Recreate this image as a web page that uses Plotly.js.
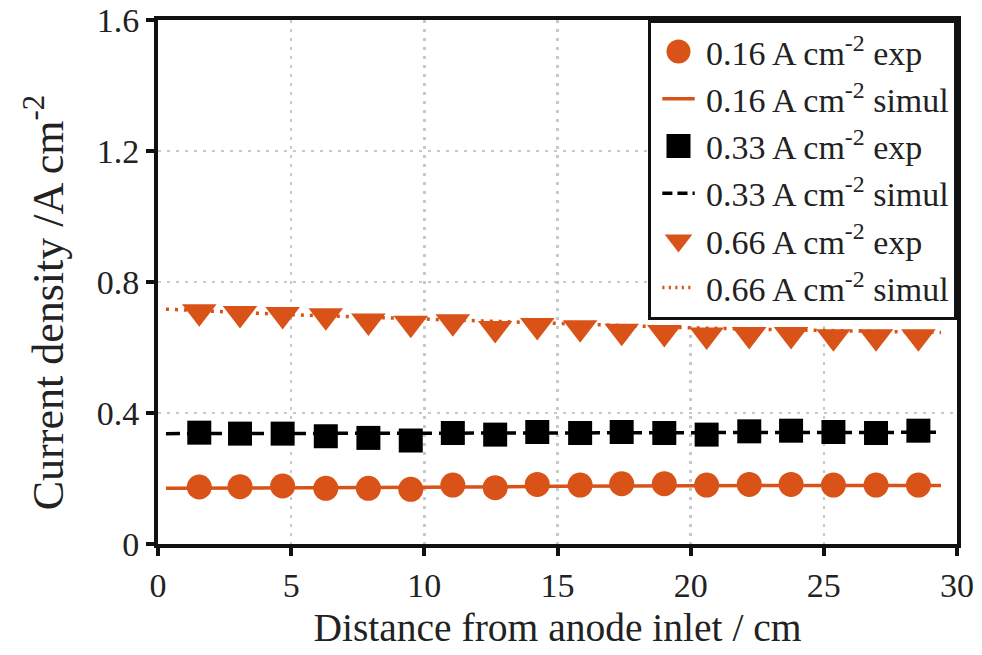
<!DOCTYPE html>
<html>
<head>
<meta charset="utf-8">
<script src="https://cdn.plot.ly/plotly-3.0.1.min.js"></script>
<style>html,body{margin:0;padding:0;background:#fff;}#chart{width:982px;height:655px;}</style>
</head>
<body>
<div id="chart"></div>
<script>
// Distance from anode inlet (cm) of the measured segments
const expX = [1.55, 3.08, 4.68, 6.30, 7.90, 9.49, 11.07, 12.66, 14.24, 15.85, 17.41, 19.01, 20.60, 22.20, 23.77, 25.36, 26.96, 28.55];
// Experimental current densities (A cm-2)
const exp016 = [0.174, 0.175, 0.177, 0.170, 0.170, 0.167, 0.180, 0.172, 0.182, 0.180, 0.184, 0.184, 0.180, 0.182, 0.182, 0.180, 0.180, 0.180];
const exp033 = [0.340, 0.337, 0.337, 0.329, 0.324, 0.316, 0.339, 0.334, 0.342, 0.339, 0.342, 0.339, 0.334, 0.344, 0.346, 0.342, 0.339, 0.346];
const exp066 = [0.709, 0.704, 0.701, 0.697, 0.681, 0.674, 0.679, 0.658, 0.667, 0.660, 0.650, 0.646, 0.638, 0.640, 0.640, 0.633, 0.633, 0.633];
// Simulated profiles
const simX = [0.3, 5, 10, 15, 20, 25, 29.4];
const sim016 = [0.170, 0.171, 0.173, 0.176, 0.178, 0.179, 0.179];
const sim033 = [0.337, 0.337, 0.338, 0.339, 0.340, 0.341, 0.341];
const sim066 = [0.717, 0.700, 0.687, 0.674, 0.660, 0.652, 0.646];
// Series names
const names = ['0.16 A cm<sup>-2</sup> exp', '0.16 A cm<sup>-2</sup> simul',
               '0.33 A cm<sup>-2</sup> exp', '0.33 A cm<sup>-2</sup> simul',
               '0.66 A cm<sup>-2</sup> exp', '0.66 A cm<sup>-2</sup> simul'];
// Tick labels and axis titles
const xTicks = [0, 5, 10, 15, 20, 25, 30];
const xTickText = ['0', '5', '10', '15', '20', '25', '30'];
const yTicks = [0, 0.4, 0.8, 1.2, 1.6];
const yTickText = ['0', '0.4', '0.8', '1.2', '1.6'];
const xTitle = 'Distance from anode inlet / cm';
const yTitle = 'Current density /A cm<sup>-2</sup>';

const ORANGE = '#D95319';
const FONT = 'Liberation Serif, Times New Roman, serif';

const traces = [
  {x: expX, y: exp016, name: names[0], mode: 'markers',
   marker: {symbol: 'circle', size: 25, color: ORANGE}},
  {x: simX, y: sim016, name: names[1], mode: 'lines',
   line: {color: ORANGE, width: 3.5}},
  {x: expX, y: exp033, name: names[2], mode: 'markers',
   marker: {symbol: 'square', size: 24, color: '#000'}},
  {x: simX, y: sim033, name: names[3], mode: 'lines',
   line: {color: '#000', width: 3.5, dash: '14px,7px'}},
  {x: expX, y: exp066, name: names[4], mode: 'markers',
   marker: {symbol: 'triangle-down', size: 30, color: ORANGE}},
  {x: simX, y: sim066, name: names[5], mode: 'lines',
   line: {color: ORANGE, width: 3.5, dash: '3px,6px'}}
];

const axisCommon = {
  showline: true, linewidth: 4, linecolor: '#111', mirror: true,
  ticks: 'outside', ticklen: 8, tickwidth: 4, tickcolor: '#111',
  showgrid: true, gridcolor: '#c8c8c8', gridwidth: 2.5, griddash: '3px,6px',
  zeroline: false, ticklabeloverflow: 'allow',
  tickfont: {family: FONT, size: 34, color: '#222'}
};

const layout = {
  width: 982, height: 655,
  margin: {l: 158, r: 25, t: 20, b: 111},
  paper_bgcolor: '#fff', plot_bgcolor: '#fff',
  showlegend: true,
  xaxis: Object.assign({}, axisCommon, {
    range: [0, 30], tickmode: 'array', tickvals: xTicks, ticktext: xTickText,
    title: {text: xTitle, font: {family: FONT, size: 39.5, color: '#222'}, standoff: 12}
  }),
  yaxis: Object.assign({}, axisCommon, {
    range: [0, 1.6], tickmode: 'array', tickvals: yTicks, ticktext: yTickText
  }),
  annotations: [{
    text: yTitle, textangle: -90, showarrow: false,
    xref: 'paper', yref: 'paper', x: -0.141, y: 0.462,
    xanchor: 'center', yanchor: 'middle',
    font: {family: FONT, size: 44, color: '#222'}
  }],
  legend: {
    x: 1, xanchor: 'right', y: 1, yanchor: 'top',
    bgcolor: '#fff', bordercolor: '#111', borderwidth: 3,
    font: {family: FONT, size: 34, color: '#222'},
    itemwidth: 45, traceorder: 'normal'
  }
};

Plotly.newPlot('chart', traces, layout, {displayModeBar: false, staticPlot: true}).then(function (gd) {
  // enlarge legend marker glyphs to match plot marker size (Plotly caps them at 16px)
  gd.querySelectorAll('.legend .legendpoints path.scatterpts').forEach(function (p) {
    var t = p.getAttribute('transform') || '';
    p.setAttribute('transform', t + ' scale(1.5)');
  });
  // shorten legend line glyphs
  gd.querySelectorAll('.legend .legendlines path').forEach(function (p) {
    var b = p.getBBox();
    var cx = b.x + b.width / 2;
    p.setAttribute('transform', 'translate(' + cx + ',0) scale(0.72,1) translate(' + (-cx) + ',0)');
  });
});
</script>
</body>
</html>
